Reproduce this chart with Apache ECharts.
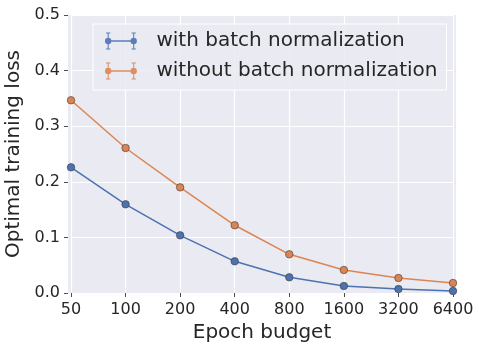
<!DOCTYPE html>
<html>
<head>
<meta charset="utf-8">
<script src="https://cdn.jsdelivr.net/npm/echarts@6/dist/echarts.min.js"></script>
<style>
  html, body { margin: 0; padding: 0; background: #fff; }
  #chart-container { width: 480px; height: 349px; }
</style>
</head>
<body>
<div id="chart-container"></div>
<script>
let dom = document.getElementById("chart-container");
let myChart = echarts.init(dom, null, { renderer: "canvas" });

// epoch budgets (log-spaced, shown as evenly spaced categories)
const epochs = ["50", "100", "200", "400", "800", "1600", "3200", "6400"];
const withBN = [0.226, 0.1595, 0.1037, 0.057, 0.0282, 0.0126, 0.0072, 0.0036];
const withoutBN = [0.3466, 0.2608, 0.19, 0.1218, 0.0696, 0.0414, 0.027, 0.018];
const seriesNames = ["with batch normalization", "without batch normalization"];

const textColor = "#262626";
const font = "DejaVu Sans";

// errorbar-style legend marker: line, two dots, two caps
const errIcon =
  "path://M2,7.4h26v1.2h-26Z" +
  "M2.5,1h1v14h-1Z M26.5,1h1v14h-1Z" +
  "M1,0h4v1h-4Z M1,15h4v1h-4Z M25,0h4v1h-4Z M25,15h4v1h-4Z" +
  "M0,8a3,3 0 1,1 6,0a3,3 0 1,1 -6,0Z M24,8a3,3 0 1,1 6,0a3,3 0 1,1 -6,0Z";

function lineSeries(name, data, color) {
  return {
    name: name,
    type: "line",
    data: data,
    color: color,
    symbol: "circle",
    symbolSize: 7.5,
    lineStyle: { width: 1.5, color: color },
    itemStyle: { color: color, borderColor: "#3a3a3a", borderWidth: 0.6 },
    emphasis: { disabled: true },
    z: 3,
  };
}

let option = {
  animation: false,
  textStyle: { fontFamily: font, color: textColor },
  graphic: [
    {
      type: "rect",
      shape: { x: 68, y: 15, width: 388, height: 278 },
      style: { fill: "#EAEAF2" },
      z: -10,
      silent: true,
    },
  ],
  grid: {
    left: 71,
    right: 27,
    top: 15,
    bottom: 56,
    outerBoundsMode: "none",
    containLabel: false,
  },
  legend: {
    data: seriesNames,
    orient: "vertical",
    left: 93,
    top: 24,
    padding: [7, 9, 9, 12],
    itemGap: 10,
    itemWidth: 33,
    itemHeight: 17,
    icon: errIcon,
    itemStyle: { borderWidth: 0, opacity: 0.9 },
    lineStyle: { width: 0 },
    backgroundColor: "rgba(234,234,242,0.85)",
    borderColor: "#ffffff",
    borderWidth: 1,
    textStyle: {
      fontFamily: font,
      fontSize: 20,
      color: textColor,
      padding: [0, 0, 0, 14],
    },
  },
  xAxis: {
    type: "category",
    data: epochs,
    boundaryGap: false,
    name: "Epoch budget",
    nameLocation: "middle",
    nameGap: 30,
    nameTextStyle: { fontFamily: font, fontSize: 20, color: textColor },
    axisLine: { show: false },
    axisTick: {
      show: true,
      alignWithLabel: true,
      length: 4,
      lineStyle: { color: "#4d4d4d", width: 1 },
    },
    axisLabel: { fontFamily: font, fontSize: 16, color: textColor, margin: 9 },
    splitLine: { show: true, lineStyle: { color: "#ffffff", width: 1.2 } },
  },
  yAxis: {
    type: "value",
    min: 0,
    max: 0.5,
    interval: 0.1,
    offset: 3,
    name: "Optimal training loss",
    nameLocation: "middle",
    nameGap: 40,
    nameTextStyle: { fontFamily: font, fontSize: 20, color: textColor },
    axisLine: { show: false },
    axisTick: {
      show: true,
      length: 4,
      lineStyle: { color: "#4d4d4d", width: 1 },
    },
    axisLabel: {
      fontFamily: font,
      fontSize: 16,
      color: textColor,
      margin: 8,
      formatter: (v) => v.toFixed(1),
    },
    splitLine: { show: true, lineStyle: { color: "#ffffff", width: 1.2 } },
  },
  series: [
    lineSeries(seriesNames[0], withBN, "#4C72B0"),
    lineSeries(seriesNames[1], withoutBN, "#DD8452"),
  ],
};

myChart.setOption(option);
window.addEventListener("resize", myChart.resize);
</script>
</body>
</html>
